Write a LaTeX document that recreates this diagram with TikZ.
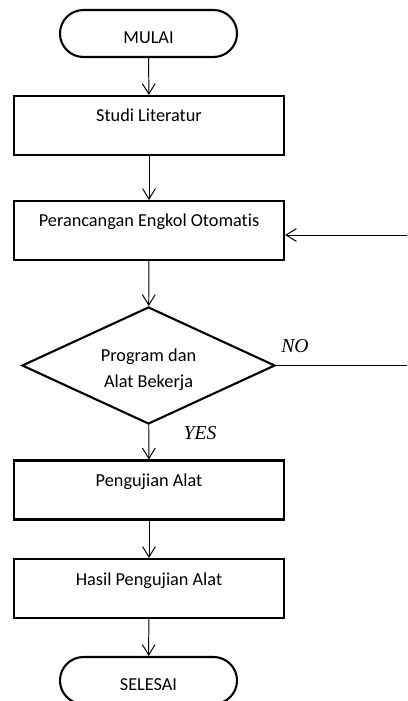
\documentclass[tikz,border=0pt]{standalone}
\usepackage{fontspec}
\setmainfont{Carlito}[Ligatures={NoCommon}]
\newfontfamily\timesfont{Liberation Serif}
\usetikzlibrary{graphs,shapes.geometric,shapes.misc,arrows.meta}

\tikzset{
  proses/.style={draw,line width=1.5pt,minimum width=6.75cm,inner xsep=0pt,inner ysep=0pt,
    text height=0.65cm,text depth=0.825cm,font=\fontsize{13}{15}\selectfont},
  terminal/.style={draw,rounded rectangle,line width=1.5pt,minimum width=4.425cm,
    minimum height=1.175cm,inner sep=0pt,text height=0.5cm,text depth=0cm,
    font=\fontsize{13}{15}\selectfont},
  keputusan/.style={draw,diamond,aspect=2.2,line width=1.5pt,minimum width=6.325cm,
    minimum height=2.925cm,inner sep=0pt,align=center,text height=33.5pt,
    font=\fontsize{13}{18.5}\selectfont},
  panah/.style={-{Straight Barb[length=2.6mm,width=3.2mm]},line width=0.7pt},
  ket/.style={font=\timesfont\itshape\fontsize{14}{16}\selectfont}
}

\begin{document}
\begin{tikzpicture}[x=0.025cm,y=-0.025cm]
      \useasboundingbox (0,0) rectangle (407,701);
      \clip (0,0) rectangle (407,701);

      \node[terminal] (mulai) at (148.5,33.5) {MULAI};
      \node[proses] (studi) at (149,125.5) {Studi Literatur};
      \node[proses] (rancang) at (149,230.5) {Perancangan Engkol Otomatis};
      \node[keputusan] (cek) at (148.5,365.5) {Program dan\\Alat Bekerja};
      \node[proses] (uji) at (149,490) {Pengujian Alat};
      \node[proses] (hasil) at (149,588.5) {Hasil Pengujian Alat};
      \node[terminal] (selesai) at (148.5,680.5) {SELESAI};

      \node[ket] (no) at (295,346) {NO};
      \node[ket] (yes) at (200,433) {YES};

      \coordinate (belokA) at (415,365.5);
      \coordinate (belokB) at (415,235);

      \graph[edges={panah}]{
        (mulai) -> (studi);
        (studi) -> (rancang);
        (rancang) -> (cek);
        (cek) -> (uji);
        (uji) -> (hasil);
        (hasil) -> (selesai)
      };

      \draw[panah] (cek.east) -- (belokA) -- (belokB) -- (belokB -| rancang.east);
    \end{tikzpicture}
\end{document}
